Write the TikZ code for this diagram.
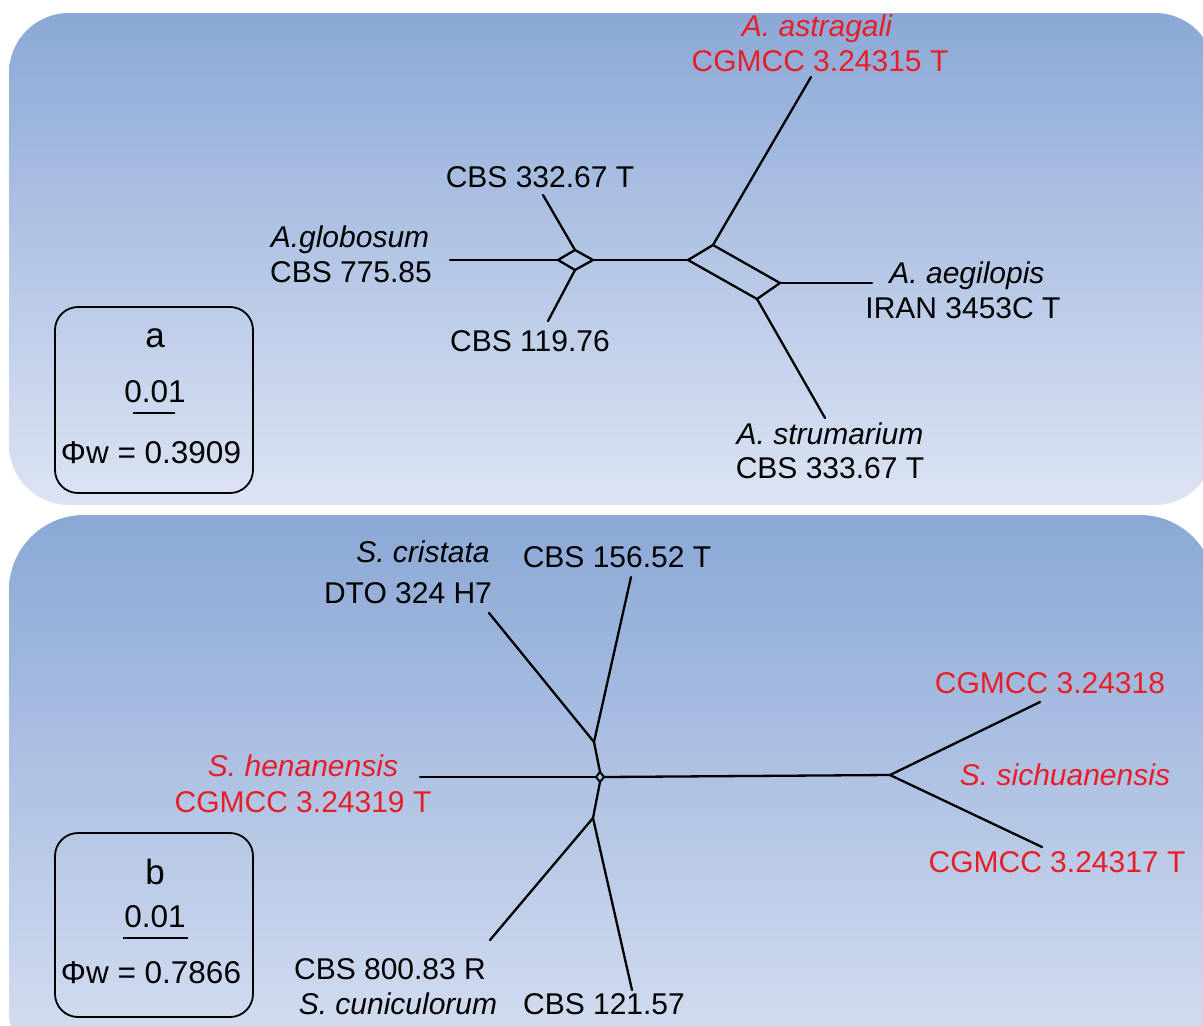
\documentclass[tikz,border=0pt]{standalone}
\usepackage{fontspec}
\setmainfont{Liberation Sans}
\definecolor{paneltop}{RGB}{139,168,214}
\definecolor{panelbot}{RGB}{221,228,244}
\definecolor{labred}{RGB}{232,30,38}
\tikzset{
  edge/.style={line width=2.3pt, black, line cap=round, line join=round},
  lab/.style={anchor=base, inner sep=0pt, font=\fontsize{30}{30}\selectfont},
  redlab/.style={lab, text=labred},
  boxtxt/.style={anchor=base, inner sep=0pt, font=\fontsize{31.5}{31.5}\selectfont},
  boxletter/.style={anchor=base, inner sep=0pt, font=\fontsize{35}{35}\selectfont},
  legendbox/.style={line width=1.8pt, rounded corners=23pt, draw=black},
}
\begin{document}
\begin{tikzpicture}[x=1pt,y=-1pt]
\useasboundingbox (0,0) rectangle (1203,1026);
\clip (0,0) rectangle (1203,1026);
\fill[white] (0,0) rectangle (1203,1026);
% panels
\path[top color=paneltop, bottom color=panelbot, rounded corners=60pt] (9,13) rectangle (1215,505);
\path[top color=paneltop, bottom color=panelbot!95!paneltop, rounded corners=75pt] (9,515) rectangle (1215,1085);

% ---------- panel a ----------
\coordinate (gl) at (450,260);
\coordinate (d1l) at (558,260);
\coordinate (d1t) at (575,250);
\coordinate (d1r) at (593,260);
\coordinate (d1b) at (575,270);
\coordinate (t332) at (543,195);
\coordinate (t119) at (548,321);
\coordinate (d2l) at (688,260);
\coordinate (d2t) at (713,245);
\coordinate (d2r) at (780,283);
\coordinate (d2b) at (757,299);
\coordinate (tast) at (811,77);
\coordinate (taeg) at (872,283);
\coordinate (tstr) at (825,418);

\draw[edge] (gl) -- (d1l);
\draw[edge] (d1l) -- (d1t) -- (d1r) -- (d1b) -- cycle;
\draw[edge] (d1t) -- (t332);
\draw[edge] (d1b) -- (t119);
\draw[edge] (d1r) -- (d2l);
\draw[edge] (d2l) -- (d2t) -- (d2r) -- (d2b) -- cycle;
\draw[edge] (d2t) -- (tast);
\draw[edge] (d2r) -- (taeg);
\draw[edge] (d2b) -- (tstr);

\node[redlab] (astr1) at (817,36) {\itshape A. astragali};
\node[redlab] (astr2) at (820,71) {CGMCC 3.24315 T};
\node[lab] (c332) at (540,187) {CBS 332.67 T};
\node[lab] (glob1) at (350,247) {\itshape A.globosum};
\node[lab] (glob2) at (351,282) {CBS 775.85};
\node[lab] (aeg1) at (967,283) {\itshape A. aegilopis};
\node[lab] (aeg2) at (963,318) {IRAN 3453C T};
\node[lab] (c119) at (530,351) {CBS 119.76};
\node[lab] (str1) at (830,444) {\itshape A. strumarium};
\node[lab] (str2) at (830,478) {CBS 333.67 T};

\draw[legendbox] (55,307) rectangle (253,493);
\node[boxletter] (la) at (155,347) {a};
\node[boxtxt] (sa) at (155,402) {0.01};
\coordinate (bar1a) at (133,413);
\coordinate (bar1b) at (175,413);
\draw[line width=2.2pt] (bar1a) -- (bar1b);
\node[boxtxt] (pa) at (151,463) {Φw = 0.3909};

% ---------- panel b ----------
\coordinate (hl) at (420,777);
\coordinate (cl) at (596,777);
\coordinate (ct) at (600,772);
\coordinate (cr) at (604,777);
\coordinate (cb) at (600,782);
\coordinate (up) at (594,742);
\coordinate (tdto) at (489,613);
\coordinate (t156) at (631,577);
\coordinate (lo) at (593,818);
\coordinate (t800) at (490,940);
\coordinate (t121) at (632,990);
\coordinate (sj) at (890,775);
\coordinate (t318) at (1040,702);
\coordinate (t317) at (1042,847);

\draw[edge] (hl) -- (cl);
\draw[edge, line width=2pt] (cl) -- (ct) -- (cr) -- (cb) -- cycle;
\draw[edge] (ct) -- (up);
\draw[edge] (up) -- (tdto);
\draw[edge] (up) -- (t156);
\draw[edge] (cb) -- (lo);
\draw[edge] (lo) -- (t800);
\draw[edge] (lo) -- (t121);
\draw[edge] (cr) -- (sj);
\draw[edge] (sj) -- (t318);
\draw[edge] (sj) -- (t317);

\node[lab] (cri1) at (423,562) {\itshape S. cristata};
\node[lab] (cri2) at (408,603) {DTO 324 H7};
\node[lab] (c156) at (617,567) {CBS 156.52 T};
\node[redlab] (s318) at (1050,693) {CGMCC 3.24318};
\node[redlab] (sich) at (1065,785) {\itshape S. sichuanensis};
\node[redlab] (s317) at (1057,872) {CGMCC 3.24317 T};
\node[redlab] (hen1) at (303,776) {\itshape S. henanensis};
\node[redlab] (hen2) at (303,812) {CGMCC 3.24319 T};
\node[lab] (c800) at (390,979) {CBS 800.83 R};
\node[lab] (cun) at (398,1014) {\itshape S. cuniculorum};
\node[lab] (c121) at (604,1014) {CBS 121.57};

\draw[legendbox] (55,833) rectangle (253,1017);
\node[boxletter] (lb) at (155,884) {b};
\node[boxtxt] (sb) at (155,927) {0.01};
\coordinate (bar2a) at (123,938);
\coordinate (bar2b) at (188,938);
\draw[line width=2.2pt] (bar2a) -- (bar2b);
\node[boxtxt] (pb) at (151,983) {Φw = 0.7866};
\end{tikzpicture}
\end{document}
